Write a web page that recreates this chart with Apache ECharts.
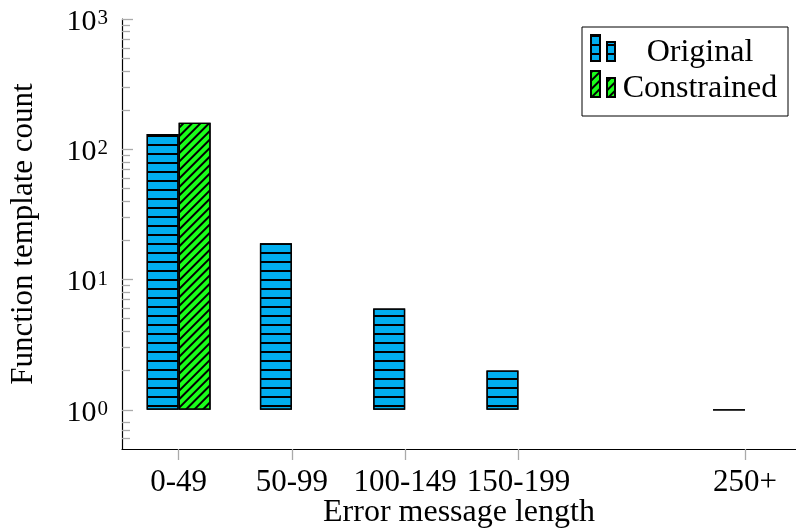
<!DOCTYPE html>
<html>
<head>
<meta charset="utf-8">
<script src="https://cdn.jsdelivr.net/npm/echarts@6/dist/echarts.min.js"></script>
<style>
  html, body { margin: 0; padding: 0; background: #fff; }
  #chart { width: 796px; height: 531px; }
</style>
</head>
<body>
<div id="chart"></div>
<script>
// Error-message-length buckets and where they sit on the x axis (200-249 is empty)
const categories = ['0-49', '50-99', '100-149', '150-199', '250+'];
const positions = [0, 1, 2, 3, 5];

// Function template counts per bucket
const originalCounts = [131, 19, 6, 2, 1];
const constrainedCounts = [160, null, null, null, null];

// Log-axis ticks
const yMajorTicks = [1, 10, 100, 1000];
const yMinorTicks = [0.6, 0.7, 0.8,
  2, 3, 4, 5, 6, 7, 8, 9,
  20, 30, 40, 50, 60, 70, 80, 90,
  200, 300, 400, 500, 600, 700, 800, 900];

const FONT = '"Liberation Serif", "DejaVu Serif", serif';
const BLUE = '#00aeef';
const GREEN = '#1aff1a';

const toPairs = (vals) => positions.map((p, i) => [p, vals[i]]);

const chart = echarts.init(document.getElementById('chart'), null, { renderer: 'canvas' });

const legendIcon = 'path://M0,0H9V26H0Z M16,7H24V26H16Z';

chart.setOption({
  animation: false,
  backgroundColor: '#fff',
  grid: { left: 122, right: 0, top: 19, bottom: 82, containLabel: false, outerBoundsMode: 'none' },
  legend: {
    left: 582,
    top: 27,
    orient: 'vertical',
    padding: [0, 8, 11, 8],
    itemGap: -6,
    itemWidth: 24,
    itemHeight: 26,
    borderColor: '#000',
    borderWidth: 1,
    borderRadius: 0,
    backgroundColor: '#fff',
    data: [
      { name: 'Original', icon: legendIcon },
      { name: 'Constrained', icon: legendIcon }
    ],
    formatter: (name) => '{c|' + name + '}',
    textStyle: {
      fontFamily: FONT,
      fontSize: 32,
      color: '#000',
      rich: {
        c: { width: 160, align: 'center', fontFamily: FONT, fontSize: 32, lineHeight: 24, padding: [10, 0, 0, 0], color: '#000' }
      }
    }
  },
  xAxis: {
    type: 'value',
    min: -0.5,
    max: 5.45,
    name: 'Error message length',
    nameLocation: 'middle',
    nameGap: 48,
    nameMoveOverlap: false,
    nameTextStyle: { fontFamily: FONT, fontSize: 32, color: '#000', verticalAlign: 'top' },
    axisLine: { show: true, onZero: false, lineStyle: { color: '#000', width: 1.2 } },
    axisTick: { show: true, length: 11, customValues: positions, lineStyle: { color: '#aaa', width: 1.3 } },
    axisLabel: {
      customValues: positions,
      margin: 18,
      fontFamily: FONT,
      fontSize: 31,
      color: '#000',
      formatter: (v) => categories[positions.indexOf(v)]
    },
    splitLine: { show: false }
  },
  yAxis: [
    {
      type: 'log',
      logBase: 10,
      min: 0.5,
      max: 1000,
      name: 'Function template count',
      nameLocation: 'middle',
      nameGap: 83,
      nameMoveOverlap: false,
      nameTextStyle: { fontFamily: FONT, fontSize: 31, color: '#000' },
      axisLine: { show: true, onZero: false, lineStyle: { color: '#000', width: 1.2 } },
      axisTick: { show: true, inside: true, length: 11, customValues: yMajorTicks, lineStyle: { color: '#aaa', width: 1.3 } },
      axisLabel: {
        customValues: yMajorTicks,
        margin: 14,
        padding: [4, 0, 0, 0],
        formatter: (v) => '{b|10}{s|' + Math.round(Math.log10(v)) + '}',
        rich: {
          b: { fontFamily: FONT, fontSize: 30, lineHeight: 32, color: '#000', verticalAlign: 'bottom' },
          s: { fontFamily: FONT, fontSize: 21, lineHeight: 21, color: '#000', verticalAlign: 'top', padding: [3, 0, 0, 1] }
        }
      },
      splitLine: { show: false },
      minorTick: { show: false }
    },
    {
      type: 'log',
      logBase: 10,
      min: 0.5,
      max: 1000,
      position: 'left',
      axisLine: { show: false, onZero: false },
      axisTick: { show: true, inside: true, length: 8, customValues: yMinorTicks, lineStyle: { color: '#aaa', width: 1.3 } },
      axisLabel: { show: false },
      splitLine: { show: false }
    }
  ],
  series: [
    {
      name: 'Original',
      type: 'bar',
      yAxisIndex: 0,
      barWidth: 32,
      barGap: '0%',
      data: toPairs(originalCounts),
      itemStyle: {
        color: BLUE,
        borderColor: '#000',
        borderWidth: 1.3,
        decal: {
          symbol: 'rect',
          symbolSize: 1,
          color: '#000',
          dashArrayX: [1, 0],
          dashArrayY: [1.3, 7],
          rotation: 0
        }
      }
    },
    {
      name: 'Constrained',
      type: 'bar',
      yAxisIndex: 0,
      barWidth: 32,
      barGap: '0%',
      data: toPairs(constrainedCounts),
      itemStyle: {
        color: GREEN,
        borderColor: '#000',
        borderWidth: 1.3,
        decal: {
          symbol: 'rect',
          symbolSize: 1,
          color: '#000',
          dashArrayX: [1, 0],
          dashArrayY: [1.2, 4],
          rotation: -Math.PI / 4
        }
      }
    }
  ]
});
</script>
</body>
</html>
